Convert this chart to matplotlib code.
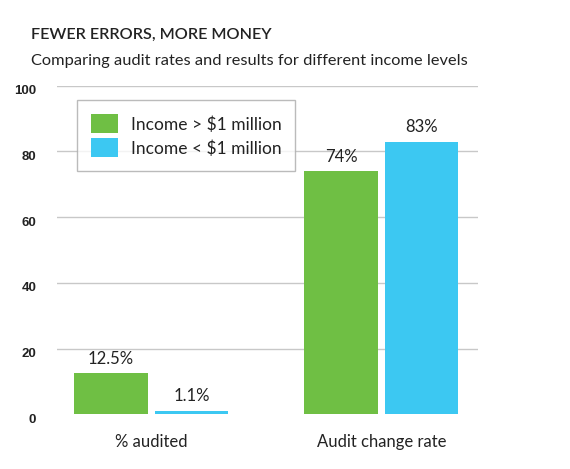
import numpy as np
import matplotlib.pyplot as plt
from matplotlib.transforms import ScaledTranslation

title = "FEWER ERRORS, MORE MONEY"
subtitle = "Comparing audit rates and results for different income levels"
categories = ["% audited", "Audit change rate"]
series_names = ["Income > $1 million", "Income < $1 million"]
above_1m = [12.5, 74]
below_1m = [1.1, 83]
above_labels = ["12.5%", "74%"]
below_labels = ["1.1%", "83%"]
yticks = [0, 20, 40, 60, 80, 100]

GREEN = '#6fbf44'
BLUE = '#3cc8f2'
TXT = '#222222'

fig = plt.figure(figsize=(5.7, 4.69), dpi=100)
ax = fig.add_axes([0.1, 0.1166, 0.7386, 0.7007])

x = np.arange(len(categories))
w = 0.32
off = 0.175
b1 = ax.bar(x - off, above_1m, w, color=GREEN, label=series_names[0], zorder=3)
b2 = ax.bar(x + off, below_1m, w, color=BLUE, label=series_names[1], zorder=3)

for bars, labs in [(b1, above_labels), (b2, below_labels)]:
    for r, lab in zip(bars, labs):
        ax.annotate(lab, (r.get_x() + r.get_width() / 2, r.get_height()),
                    xytext=(0, 4.5), textcoords='offset points', ha='center', va='bottom',
                    fontsize=12, family='Lato', color=TXT)

ax.set_xlim(-0.41, 1.42)
ax.set_ylim(0, 100)
for t in yticks[1:]:
    ax.axhline(t, color='#c8c8c8', lw=1, zorder=1)
ax.set_yticks(yticks)
ax.set_yticklabels([str(t) for t in yticks], fontsize=9.5, fontweight='bold',
                   family='Liberation Sans', color=TXT)
ax.tick_params(axis='y', length=0, pad=15)
# labels sit a little below their gridlines
shift = ScaledTranslation(0, -4 / 100, fig.dpi_scale_trans)
for lbl in ax.get_yticklabels():
    lbl.set_transform(lbl.get_transform() + shift)
ax.set_xticks(x)
ax.set_xticklabels(categories, fontsize=12, family='Lato', color=TXT)
ax.tick_params(axis='x', length=0, pad=14)
for s in ax.spines.values():
    s.set_visible(False)

leg = ax.legend(loc='upper left', bbox_to_anchor=(0.047, 0.955), frameon=True, fancybox=False,
                prop={'family': 'Lato', 'size': 12.5}, handlelength=1.6, handleheight=1.3,
                borderpad=0.8, labelspacing=0.3, handletextpad=0.7, borderaxespad=0)
leg.get_frame().set_edgecolor('#aaaaaa')
leg.get_frame().set_linewidth(1)
for t in leg.get_texts():
    t.set_color(TXT)

fig.text(31 / 570, 1 - 35 / 469, title, fontsize=11.7, family='Lato', fontweight='semibold',
         color=TXT, va='center', ha='left')
fig.text(31 / 570, 1 - 61 / 469, subtitle, fontsize=11.8, family='Lato',
         color=TXT, va='center', ha='left')

plt.savefig('out.png', dpi=100)
